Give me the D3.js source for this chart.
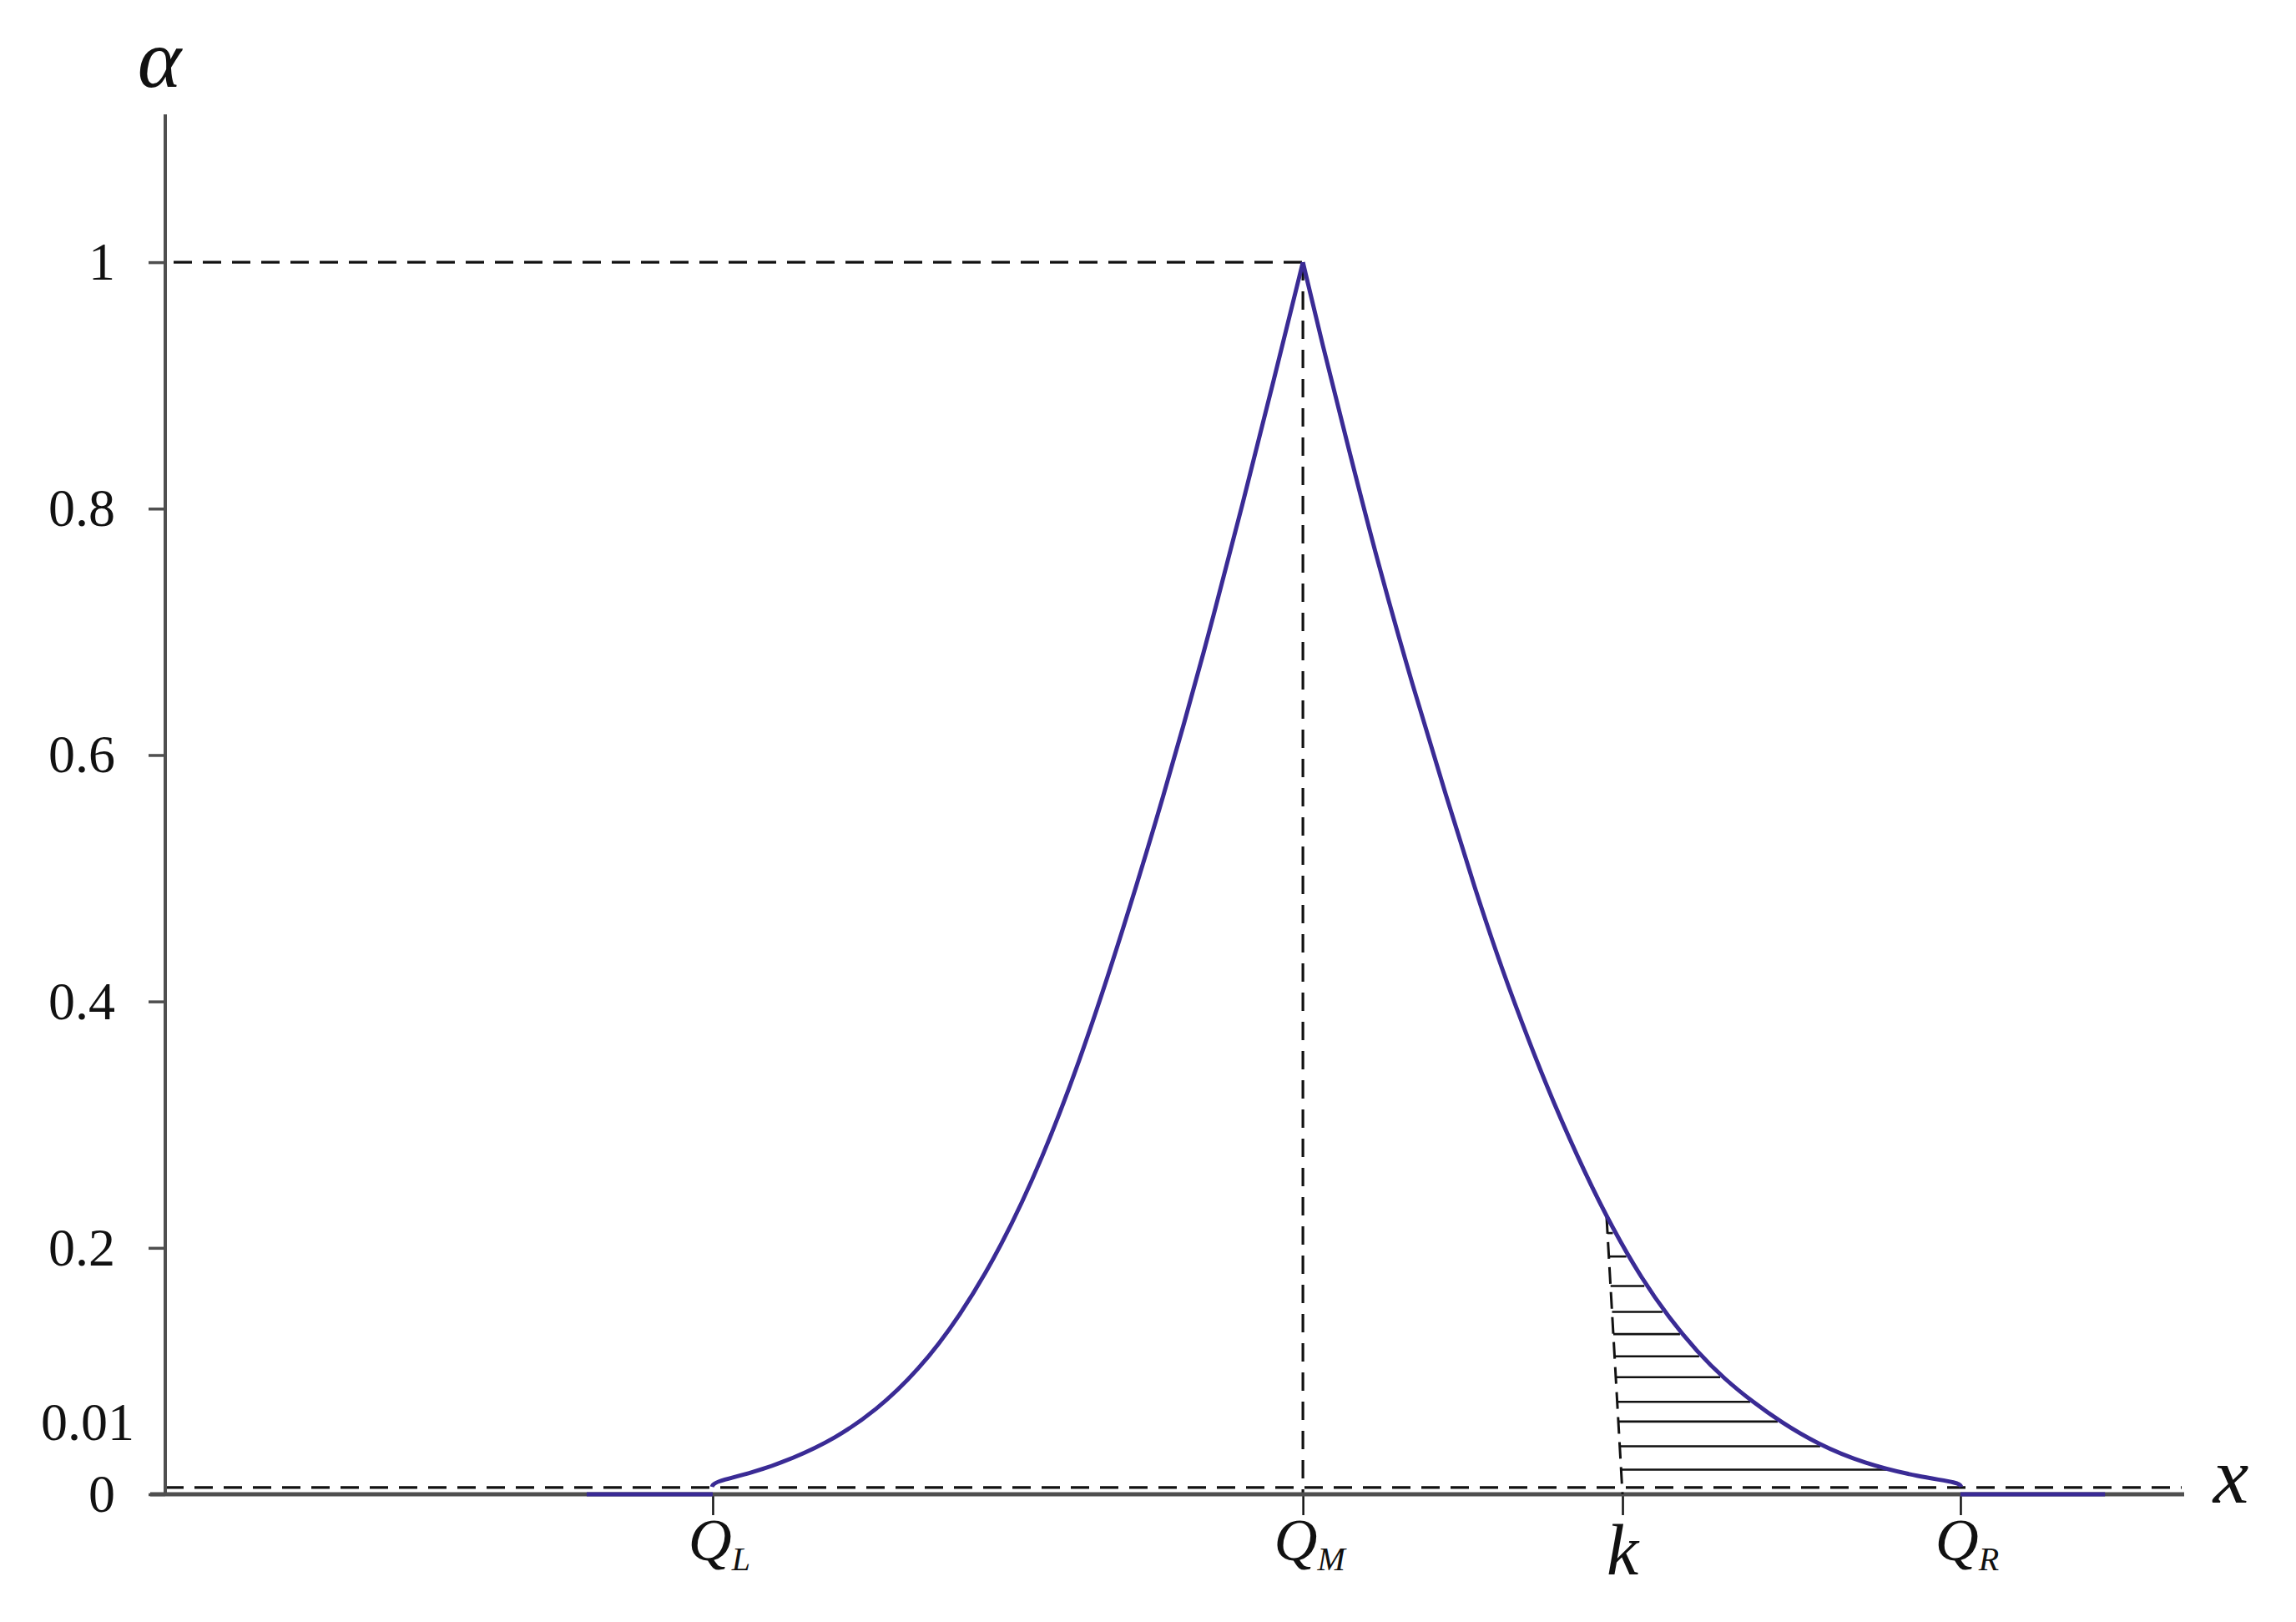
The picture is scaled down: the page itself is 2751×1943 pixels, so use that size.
<!DOCTYPE html>
<html>
<head>
  <meta charset="utf-8">
  <title>Membership function alpha(x)</title>
  <script src="https://d3js.org/d3.v7.min.js"></script>
  <style>
    html, body {
      margin: 0;
      padding: 0;
      background: #fff;
    }
    svg {
      display: block;
      background: #fff;
    }
    .serif {
      font-family: "Liberation Serif", "Times New Roman", serif;
      fill: #111;
    }
  </style>
</head>
<body>
  <svg id="chart"></svg>

  <script>
    const W = 2751, H = 1943;

    // x is in arbitrary units along the axis (0..10), alpha is the membership level
    const markValues = [2.715, 5.642, 7.227, 8.903];
    const markNames = ["Q", "Q", "k", "Q"];
    const markSubs = ["L", "M", "", "R"];

    const yTicks = [0, 0.2, 0.4, 0.6, 0.8, 1];
    const epsText = "0.01";
    const epsLevel = 0.0055;

    // curve: rising branch (Q_L -> Q_M), falling branch (Q_M -> Q_R)
    const leftBranch = [
      [2.712, 0.006], [2.718, 0.0100], [2.906, 0.017], [3.113, 0.029], [3.320, 0.045],
      [3.526, 0.068], [3.733, 0.100], [3.940, 0.144], [4.147, 0.201],
      [4.350, 0.272], [4.550, 0.358], [4.750, 0.458], [4.950, 0.566],
      [5.150, 0.682], [5.350, 0.808], [5.500, 0.906], [5.642, 1.000]
    ];
    const rightBranch = [
      [5.642, 1.000], [5.733, 0.937], [5.873, 0.846], [6.010, 0.758],
      [6.188, 0.655], [6.354, 0.566], [6.494, 0.492], [6.631, 0.425],
      [6.767, 0.366], [6.879, 0.320], [7.045, 0.259], [7.181, 0.215],
      [7.322, 0.175], [7.459, 0.143], [7.595, 0.116], [7.736, 0.093],
      [7.873, 0.075], [8.009, 0.059], [8.191, 0.041], [8.423, 0.025],
      [8.700, 0.014], [8.900, 0.0095], [8.906, 0.006]
    ];
    // zero parts of the function lying on the axis
    const tailLeft = [2.09, 2.715];
    const tailRight = [8.903, 9.62];

    // hatched area right of k
    const hatchLevels = [0.212, 0.193, 0.169, 0.148, 0.130, 0.112, 0.095, 0.075, 0.059, 0.039, 0.020];
    const hatchEdge = [[7.148, 0.225], [7.227, 0.0]];

    const svg = d3.select("#chart").attr("width", W).attr("height", H);

    const x = d3.scaleLinear().domain([0, 10]).range([198, 2614]);
    const y = d3.scaleLinear().domain([0, 1.12]).range([1790, 137]);

    const purple = "#3a2b95";
    const axisGrey = "#4f4f4f";

    // ---- dashed guide lines
    const dash = svg.append("g")
      .attr("fill", "none")
      .attr("stroke", "#111")
      .attr("stroke-width", 3.2)
      .attr("stroke-dasharray", "22,13");

    dash.append("line")
      .attr("x1", x(0) + 10).attr("x2", x(markValues[1]))
      .attr("y1", y(1)).attr("y2", y(1));
    dash.append("line")
      .attr("x1", x(markValues[1])).attr("x2", x(markValues[1]))
      .attr("y1", y(1)).attr("y2", y(0));
    dash.append("line")
      .attr("x1", x(0)).attr("x2", x(10))
      .attr("y1", y(epsLevel)).attr("y2", y(epsLevel));

    // ---- axes
    const yAxis = svg.append("g")
      .attr("transform", `translate(${x(0)},0)`)
      .call(d3.axisLeft(y).tickValues(yTicks).tickSize(20).tickPadding(40)
        .tickFormat(d3.format("~g")));
    yAxis.select(".domain").remove();
    yAxis.selectAll(".tick line").attr("stroke", axisGrey).attr("stroke-width", 3.5);
    yAxis.selectAll(".tick text")
      .attr("class", "serif")
      .attr("font-size", 64)
      .attr("fill", "#111");

    svg.append("line")
      .attr("x1", x(0)).attr("x2", x(0))
      .attr("y1", y(1.12)).attr("y2", y(0))
      .attr("stroke", axisGrey).attr("stroke-width", 4);

    svg.append("text")
      .attr("class", "serif")
      .attr("x", x(0) - 37).attr("y", y(0) - 85)
      .attr("dy", "0.32em")
      .attr("text-anchor", "end")
      .attr("font-size", 64)
      .text(epsText);

    const xAxis = svg.append("g")
      .attr("transform", `translate(0,${y(0)})`)
      .call(d3.axisBottom(x).tickValues(markValues).tickSize(25).tickFormat(""));
    xAxis.select(".domain").remove();
    xAxis.selectAll(".tick line").attr("stroke", "#111").attr("stroke-width", 2.5);

    svg.append("line")
      .attr("x1", x(0) - 18).attr("x2", x(10) + 3)
      .attr("y1", y(0)).attr("y2", y(0))
      .attr("stroke", axisGrey).attr("stroke-width", 5);

    // ---- hatching between k and the falling branch
    const edgeX = d3.scaleLinear().domain(hatchEdge.map(d => d[1])).range(hatchEdge.map(d => d[0]));
    const curveX = d3.scaleLinear().domain(rightBranch.map(d => d[1])).range(rightBranch.map(d => d[0]));

    svg.append("g")
      .selectAll("line")
      .data(hatchLevels)
      .join("line")
      .attr("x1", d => x(edgeX(d)))
      .attr("x2", d => x(curveX(d)) - 3)
      .attr("y1", d => y(d))
      .attr("y2", d => y(d))
      .attr("stroke", "#111")
      .attr("stroke-width", 2.6);

    svg.append("line")
      .attr("x1", x(hatchEdge[0][0])).attr("y1", y(hatchEdge[0][1]))
      .attr("x2", x(hatchEdge[1][0])).attr("y2", y(hatchEdge[1][1]))
      .attr("stroke", "#111")
      .attr("stroke-width", 3)
      .attr("stroke-dasharray", "20,10");

    // ---- membership curve
    const line = d3.line()
      .x(d => x(d[0]))
      .y(d => y(d[1]))
      .curve(d3.curveBasis);

    const curveG = svg.append("g")
      .attr("fill", "none")
      .attr("stroke", purple)
      .attr("stroke-width", 5)
      .attr("stroke-linejoin", "miter");

    curveG.append("path").attr("d", line(leftBranch));
    curveG.append("path").attr("d", line(rightBranch));
    curveG.append("path").attr("d", line(tailLeft.map(v => [v, 0])));
    curveG.append("path").attr("d", line(tailRight.map(v => [v, 0])));

    // ---- x marks Q_L, Q_M, k, Q_R
    const markLabels = svg.append("g")
      .selectAll("text")
      .data(markValues)
      .join("text")
      .attr("class", "serif")
      .attr("font-style", "italic")
      .attr("text-anchor", "middle")
      .attr("x", (d, i) => x(d) + (markSubs[i] ? 8 : 0))
      .attr("y", (d, i) => markSubs[i] ? 1869 : 1886)
      .attr("font-size", (d, i) => markSubs[i] ? 72 : 86);

    markLabels.append("tspan").text((d, i) => markNames[i]);
    markLabels.filter((d, i) => markSubs[i] !== "")
      .append("tspan")
      .attr("font-size", 40)
      .attr("dy", 12)
      .text(d => markSubs[markValues.indexOf(d)]);

    // ---- axis titles
    svg.append("text")
      .attr("class", "serif")
      .attr("font-style", "italic")
      .attr("font-size", 100)
      .attr("text-anchor", "middle")
      .attr("x", x(0) - 7).attr("y", 104)
      .text("α");

    svg.append("text")
      .attr("class", "serif")
      .attr("font-style", "italic")
      .attr("font-size", 96)
      .attr("text-anchor", "middle")
      .attr("x", 2673).attr("y", 1800)
      .text("x");
  </script>
</body>
</html>
